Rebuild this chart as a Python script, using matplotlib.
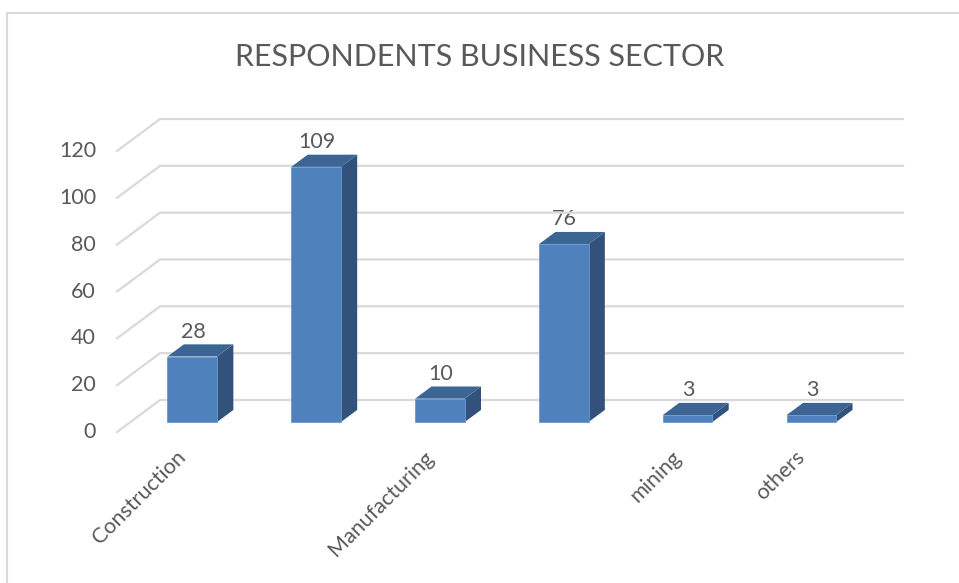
import matplotlib
matplotlib.use("Agg")
import matplotlib.pyplot as plt
from matplotlib.lines import Line2D
from matplotlib.patches import Polygon
from matplotlib.transforms import ScaledTranslation, IdentityTransform

plt.rcParams["font.family"] = ["Lato", "DejaVu Sans"]

# ---- data ----
categories = ["Construction", "", "Manufacturing", "", "mining", "others"]
values = [28, 109, 10, 76, 3, 3]
y_ticks = [0, 20, 40, 60, 80, 100, 120]
title = "RESPONDENTS BUSINESS SECTOR"

# ---- style ----
W, H, DPI = 959, 583, 100
text_col = "#595959"
grid_col = "#D9D9D9"
front_col = "#4F81BD"
top_col = "#3C6594"
side_col = "#32527C"

fig = plt.figure(figsize=(W / DPI, H / DPI), dpi=DPI)
fig.patch.set_facecolor("white")

# axes = front edge of the floor (value plane nearest the viewer)
left_px, right_px = 117, 860
zero_px, top_px = 432, 151          # pixel rows (from top) for 0 and 120
ax = fig.add_axes([left_px / W, (H - zero_px) / H,
                   (right_px - left_px) / W, (zero_px - top_px) / H])
ax.set_xlim(-0.5, len(categories) - 0.5)
ax.set_ylim(0, 120)
ax.axis("off")

# depth of the floor in pixels (to the right, upward)
depth_x, depth_y = 43, 32


def depth_trans(frac):
    return ax.transData + ScaledTranslation(frac * depth_x / DPI,
                                            frac * depth_y / DPI,
                                            fig.dpi_scale_trans)


wall = depth_trans(1.0)
bar_front = depth_trans(0.31)
bar_back = depth_trans(0.69)

x0, x1 = -0.5, len(categories) - 0.5

# gridlines: side-wall diagonals plus back-wall horizontals
for v in y_ticks:
    p_front = ax.transData.transform((x0, v))
    p_back = wall.transform((x0, v))
    p_end = wall.transform((x1, v))
    fig.add_artist(Line2D([p_front[0], p_back[0], p_end[0]],
                          [p_front[1], p_back[1], p_end[1]],
                          transform=IdentityTransform(),
                          color=grid_col, lw=1.6, zorder=1))
    ax.text(-0.5, v, str(v), transform=ax.transData + ScaledTranslation(
        -21 / DPI, 0, fig.dpi_scale_trans),
        ha="right", va="center", fontsize=15.5, color=text_col)

# 3D-looking bars
half = 0.2
for i, v in enumerate(values):
    fl = bar_front.transform((i - half, 0))
    fr = bar_front.transform((i + half, 0))
    ftl = bar_front.transform((i - half, v))
    ftr = bar_front.transform((i + half, v))
    btl = bar_back.transform((i - half, v))
    btr = bar_back.transform((i + half, v))
    br = bar_back.transform((i + half, 0))
    side = Polygon([fr, ftr, btr, br], closed=True, facecolor=side_col,
                   edgecolor="none", transform=IdentityTransform(), zorder=3)
    top = Polygon([ftl, ftr, btr, btl], closed=True, facecolor=top_col,
                  edgecolor="none", transform=IdentityTransform(), zorder=3)
    front = Polygon([fl, fr, ftr, ftl], closed=True, facecolor=front_col,
                    edgecolor="#6A98D0", lw=0.6,
                    transform=IdentityTransform(), zorder=4)
    for p in (side, top, front):
        fig.add_artist(p)
    ax.text(i, v, str(v), transform=bar_front + ScaledTranslation(
        1 / DPI, 19 / DPI, fig.dpi_scale_trans),
        ha="center", va="baseline", fontsize=15.5, color=text_col, zorder=5)

# category labels, rotated 45 degrees
for i, c in enumerate(categories):
    if not c:
        continue
    ax.text(i, 0, c, transform=ax.transData + ScaledTranslation(
        -3 / DPI, -15 / DPI, fig.dpi_scale_trans),
        rotation=45, rotation_mode="anchor", ha="right", va="top",
        fontsize=15.5, color=text_col)

# title
fig.text(479.5 / W, 1 - 66.5 / H, title, ha="center", va="baseline",
         fontsize=22, color=text_col)

# chart-area border (left and top edges)
fig.add_artist(Line2D([7, 7, W], [0, H - 13, H - 13],
                      transform=IdentityTransform(), color="#D9D9D9", lw=1.5))

fig.savefig("out.png", dpi=DPI, facecolor="white")
